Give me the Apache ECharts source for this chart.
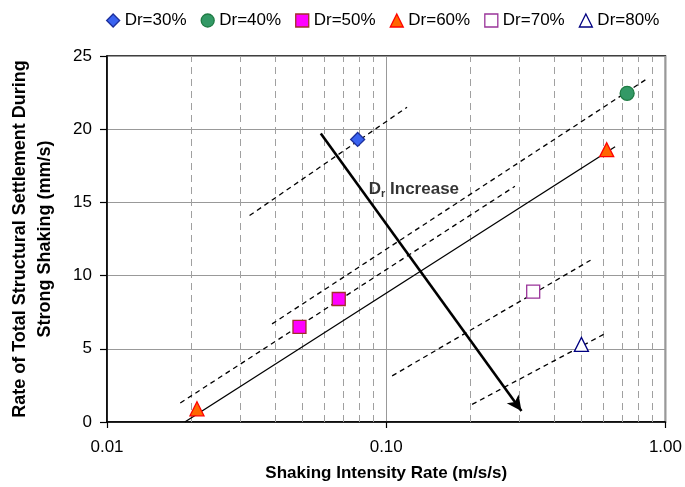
<!DOCTYPE html>
<html>
<head>
<meta charset="utf-8">
<script src="https://cdn.jsdelivr.net/npm/echarts@6/dist/echarts.min.js"></script>
<style>
html,body{margin:0;padding:0;background:#fff;}
#chart{width:685px;height:487px;}
</style>
</head>
<body>
<div id="chart"></div>
<script>
// ---- data ----
const seriesNames = ['Dr=30%', 'Dr=40%', 'Dr=50%', 'Dr=60%', 'Dr=70%', 'Dr=80%'];
const dr30 = [[0.079, 19.3]];
const dr40 = [[0.729, 22.45]];
const dr50 = [[0.0489, 6.5], [0.0676, 8.4]];
const dr60 = [[0.021, 0.9], [0.616, 18.6]];
const dr70 = [[0.336, 8.9]];
const dr80 = [[0.50, 5.3]];

// trend lines (dashed) and fitted line (solid)
const trend30 = [[0.0324, 14.1], [0.1187, 21.5]];
const trend40 = [[0.039, 6.7], [0.868, 23.5]];
const trend50 = [[0.0183, 1.3], [0.289, 16.1]];
const trend60 = [[0.019, 0.0], [0.66, 18.8]];
const trend70 = [[0.105, 3.15], [0.539, 11.05]];
const trend80 = [[0.203, 1.2], [0.61, 6.05]];

const arrowFrom = [0.0583, 19.7];
const arrowTo = [0.305, 0.75];
const annotationAt = [0.0866, 15.9];

const xTicks = [0.01, 0.1, 1];
const minorGridX = [0.02, 0.03, 0.04, 0.05, 0.06, 0.07, 0.08, 0.09,
                    0.2, 0.3, 0.4, 0.5, 0.6, 0.7, 0.8, 0.9];
const yMin = 0, yMax = 25, yStep = 5;

// ---- chart ----
const chart = echarts.init(document.getElementById('chart'), null, {renderer: 'canvas'});
const FONT = 'Liberation Sans, Arial, sans-serif';

function markerSeries(name, data, symbol, size, fill, border) {
  return {
    name: name, type: 'scatter', data: data, symbol: symbol, symbolSize: size,
    itemStyle: {color: fill, borderColor: border, borderWidth: 1.3, opacity: 1},
    z: 10
  };
}
function trendSeries(data, dashed) {
  return {
    type: 'line', data: data, symbol: 'none', silent: true,
    lineStyle: {color: '#000', width: 1.3, type: dashed ? [5, 4] : 'solid'},
    z: 5
  };
}

const option = {
  animation: false,
  backgroundColor: '#fff',
  textStyle: {fontFamily: FONT},
  grid: {left: 107, right: 17, top: 56, bottom: 64, show: true,
         borderColor: '#000', borderWidth: 1.5, backgroundColor: 'transparent'},
  legend: {
    data: seriesNames, left: 101, top: 7, itemWidth: 13, itemHeight: 13, itemGap: 14,
    textStyle: {fontSize: 17, color: '#000', fontFamily: FONT},
    itemStyle: {borderWidth: 1.3}
  },
  xAxis: {
    type: 'log', logBase: 10, min: xTicks[0], max: xTicks[xTicks.length - 1],
    name: 'Shaking Intensity Rate (m/s/s)', nameLocation: 'middle', nameGap: 43,
    nameTextStyle: {fontSize: 17, fontWeight: 'bold', color: '#000', fontFamily: FONT},
    axisLine: {show: true, lineStyle: {color: '#000', width: 1.5}},
    axisTick: {show: true, inside: false, length: 6, lineStyle: {color: '#000', width: 1.2}},
    axisLabel: {fontSize: 17, color: '#000', margin: 17, fontFamily: FONT,
                formatter: v => Number(v).toFixed(2)},
    splitLine: {show: true, lineStyle: {color: '#999', width: 1}},
    minorTick: {show: false}, minorSplitLine: {show: false}
  },
  yAxis: {
    type: 'value', min: yMin, max: yMax, interval: yStep,
    name: 'Rate of Total Structural Settlement During\nStrong Shaking (mm/s)',
    nameLocation: 'middle', nameGap: 49,
    nameTextStyle: {fontSize: 18, fontWeight: 'bold', color: '#000', lineHeight: 25, fontFamily: FONT},
    axisLine: {show: true, lineStyle: {color: '#000', width: 1.5}},
    axisTick: {show: true, inside: false, length: 7, lineStyle: {color: '#000', width: 1.2}},
    axisLabel: {fontSize: 17, color: '#000', margin: 15, fontFamily: FONT},
    splitLine: {show: true, lineStyle: {color: '#999', width: 1}}
  },
  series: [
    {
      type: 'line', data: [], silent: true, z: 1,
      markLine: {
        silent: true, symbol: 'none', animation: false,
        label: {show: false},
        lineStyle: {color: '#a0a0a0', width: 1, type: [7, 5]},
        data: minorGridX.map(v => ({xAxis: v}))
      }
    },
    trendSeries(trend30, true),
    trendSeries(trend40, true),
    trendSeries(trend50, true),
    trendSeries(trend60, false),
    trendSeries(trend70, true),
    trendSeries(trend80, true),
    {
      type: 'line', data: [], silent: true, z: 6,
      markLine: {
        silent: true, animation: false, symbolSize: [11, 15],
        label: {show: false},
        lineStyle: {color: '#000', width: 2.6, type: 'solid'},
        data: [[{coord: arrowFrom, symbol: 'none'}, {coord: arrowTo, symbol: 'arrow'}]]
      }
    },
    {
      type: 'scatter', data: [annotationAt], symbolSize: 0, silent: true, z: 7,
      label: {
        show: true, position: 'right', distance: 0,
        formatter: '{d|D}{s|r}{d| Increase}',
        rich: {
          d: {fontSize: 17, fontWeight: 'bold', color: '#000', fontFamily: FONT, lineHeight: 20},
          s: {fontSize: 11, fontWeight: 'bold', color: '#000', fontFamily: FONT, lineHeight: 11, verticalAlign: 'bottom'}
        }
      }
    },
    markerSeries(seriesNames[0], dr30, 'diamond', 14, '#3a63f0', '#1c2f9c'),
    markerSeries(seriesNames[1], dr40, 'circle', 14, '#339966', '#1e7b43'),
    markerSeries(seriesNames[2], dr50, 'rect', 13, '#ff00ff', '#a0302a'),
    markerSeries(seriesNames[3], dr60, 'triangle', 14, '#ff6600', '#ff0000'),
    markerSeries(seriesNames[4], dr70, 'rect', 13, '#ffffff', '#993399'),
    markerSeries(seriesNames[5], dr80, 'triangle', 14, '#ffffff', '#000080')
  ]
};
chart.setOption(option);
</script>
</body>
</html>
